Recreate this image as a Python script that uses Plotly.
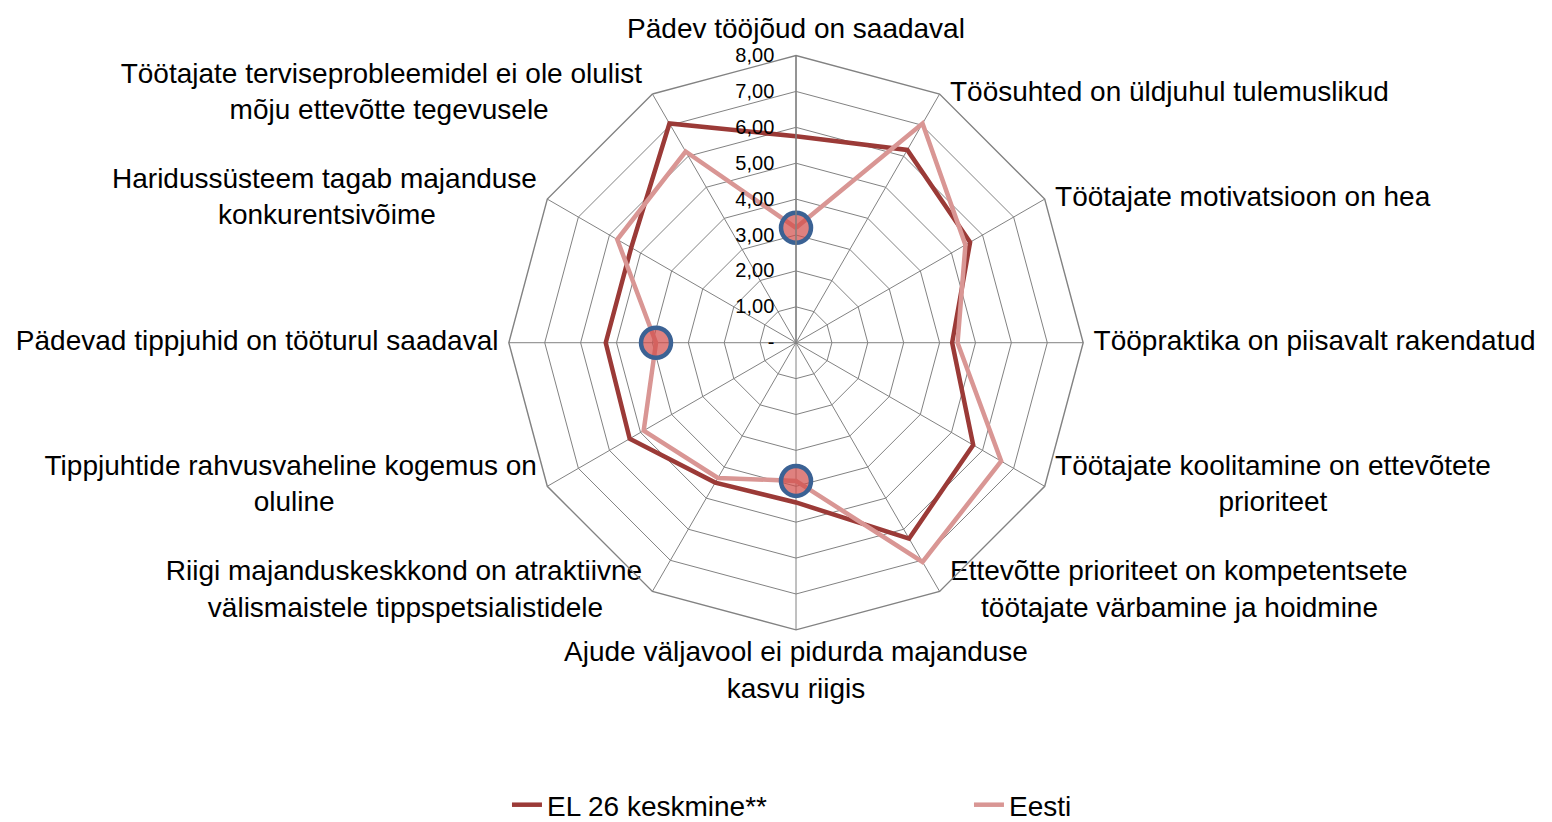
import plotly.graph_objects as go

NB = "\u00a0"

categories = [
    "Pädev tööjõud on saadaval",
    "Töösuhted on üldjuhul tulemuslikud",
    "Töötajate motivatsioon on hea",
    "Tööpraktika on piisavalt rakendatud",
    "Töötajate koolitamine on ettevõtete<br>" + NB * 21 + "prioriteet",
    "Ettevõtte prioriteet on kompetentsete<br>" + NB * 4 + "töötajate värbamine ja hoidmine",
    "Ajude väljavool ei pidurda majanduse<br>kasvu riigis",
    "Riigi majanduskeskkond on atraktiivne<br>välismaistele tippspetsialistidele" + NB * 5,
    "Tippjuhtide rahvusvaheline kogemus on<br>oluline" + NB * 26,
    "Pädevad tippjuhid on tööturul saadaval",
    "Haridussüsteem tagab majanduse<br>konkurentsivõime" + NB * 13,
    "Töötajate terviseprobleemidel ei ole olulist<br>mõju ettevõtte tegevusele" + NB * 12,
]
el26 = [5.75, 6.2, 5.6, 4.35, 5.7, 6.3, 4.45, 4.5, 5.35, 5.3, 5.3, 7.05]
eesti = [3.2, 7.05, 5.45, 4.5, 6.6, 7.05, 3.85, 4.35, 4.9, 3.9, 5.75, 6.15]
highlight_idx = [0, 6, 9]

tick_vals = [0, 1, 2, 3, 4, 5, 6, 7, 8]
tick_text = ["-", "1,00", "2,00", "3,00", "4,00", "5,00", "6,00", "7,00", "8,00"]

R_MAX = 8
DARK = "#9B3A37"
PINK = "#D99694"
GRID = "#828282"
FONT = "Liberation Sans, Arial, sans-serif"

n = len(categories)
label_pos = []
for i in range(n):
    ang = 360 * i / n
    if ang == 0:
        label_pos.append("top center")
    elif ang == 180:
        label_pos.append("bottom center")
    elif ang < 180:
        label_pos.append("middle right")
    else:
        label_pos.append("middle left")

cats_closed = categories + [categories[0]]

fig = go.Figure()
fig.add_trace(go.Scatterpolar(
    r=el26 + [el26[0]], theta=cats_closed, mode="lines",
    name="EL 26 keskmine**", line=dict(color=DARK, width=4.5),
))
fig.add_trace(go.Scatterpolar(
    r=eesti + [eesti[0]], theta=cats_closed, mode="lines",
    name="Eesti", line=dict(color=PINK, width=4.5),
))
fig.add_trace(go.Scatterpolar(
    r=[eesti[i] for i in highlight_idx],
    theta=[categories[i] for i in highlight_idx],
    mode="markers", showlegend=False,
    marker=dict(size=30, color="rgba(210,75,72,0.7)",
                line=dict(color="#3B6294", width=4.5)),
))
# category labels placed just outside the outer ring
fig.add_trace(go.Scatterpolar(
    r=[R_MAX] * n, theta=categories, mode="markers+text",
    text=categories, textposition=label_pos,
    textfont=dict(size=28, family=FONT, color="black"),
    marker=dict(size=15, color="rgba(0,0,0,0)"),
    showlegend=False, hoverinfo="skip", cliponaxis=False,
))

dx = 8 / 1552
dy = 12 / 822
fig.update_layout(
    width=1552, height=822,
    margin=dict(l=0, r=0, t=0, b=0),
    paper_bgcolor="white", plot_bgcolor="white",
    font=dict(family=FONT, color="black"),
    polar=dict(
        domain=dict(x=[0.32603 - dx, 0.69975 - dx], y=[0.23114 - dy + 2 * 8 / 822, 0.93674 - dy + 2 * 8 / 822]),
        bgcolor="white",
        gridshape="linear",
        angularaxis=dict(
            direction="clockwise", rotation=90,
            linecolor=GRID, linewidth=1.4, gridcolor=GRID, gridwidth=1.4,
            showline=True, ticks="", showticklabels=False,
        ),
        radialaxis=dict(
            range=[0, R_MAX], angle=90, tickangle=90,
            tickvals=tick_vals, ticktext=tick_text,
            showline=True, linecolor=GRID, linewidth=1.4,
            gridcolor=GRID, gridwidth=1.4,
            ticks="outside", ticklen=14, tickcolor="rgba(0,0,0,0)",
            side="counterclockwise",
            tickfont=dict(size=20, family=FONT),
        ),
    ),
    legend=dict(
        orientation="h", x=0.3215, y=-0.01, xanchor="left", yanchor="bottom",
        entrywidth=417, entrywidthmode="pixels",
        font=dict(size=28, family=FONT),
        bgcolor="rgba(0,0,0,0)",
    ),
)

fig.write_html("out.html")
